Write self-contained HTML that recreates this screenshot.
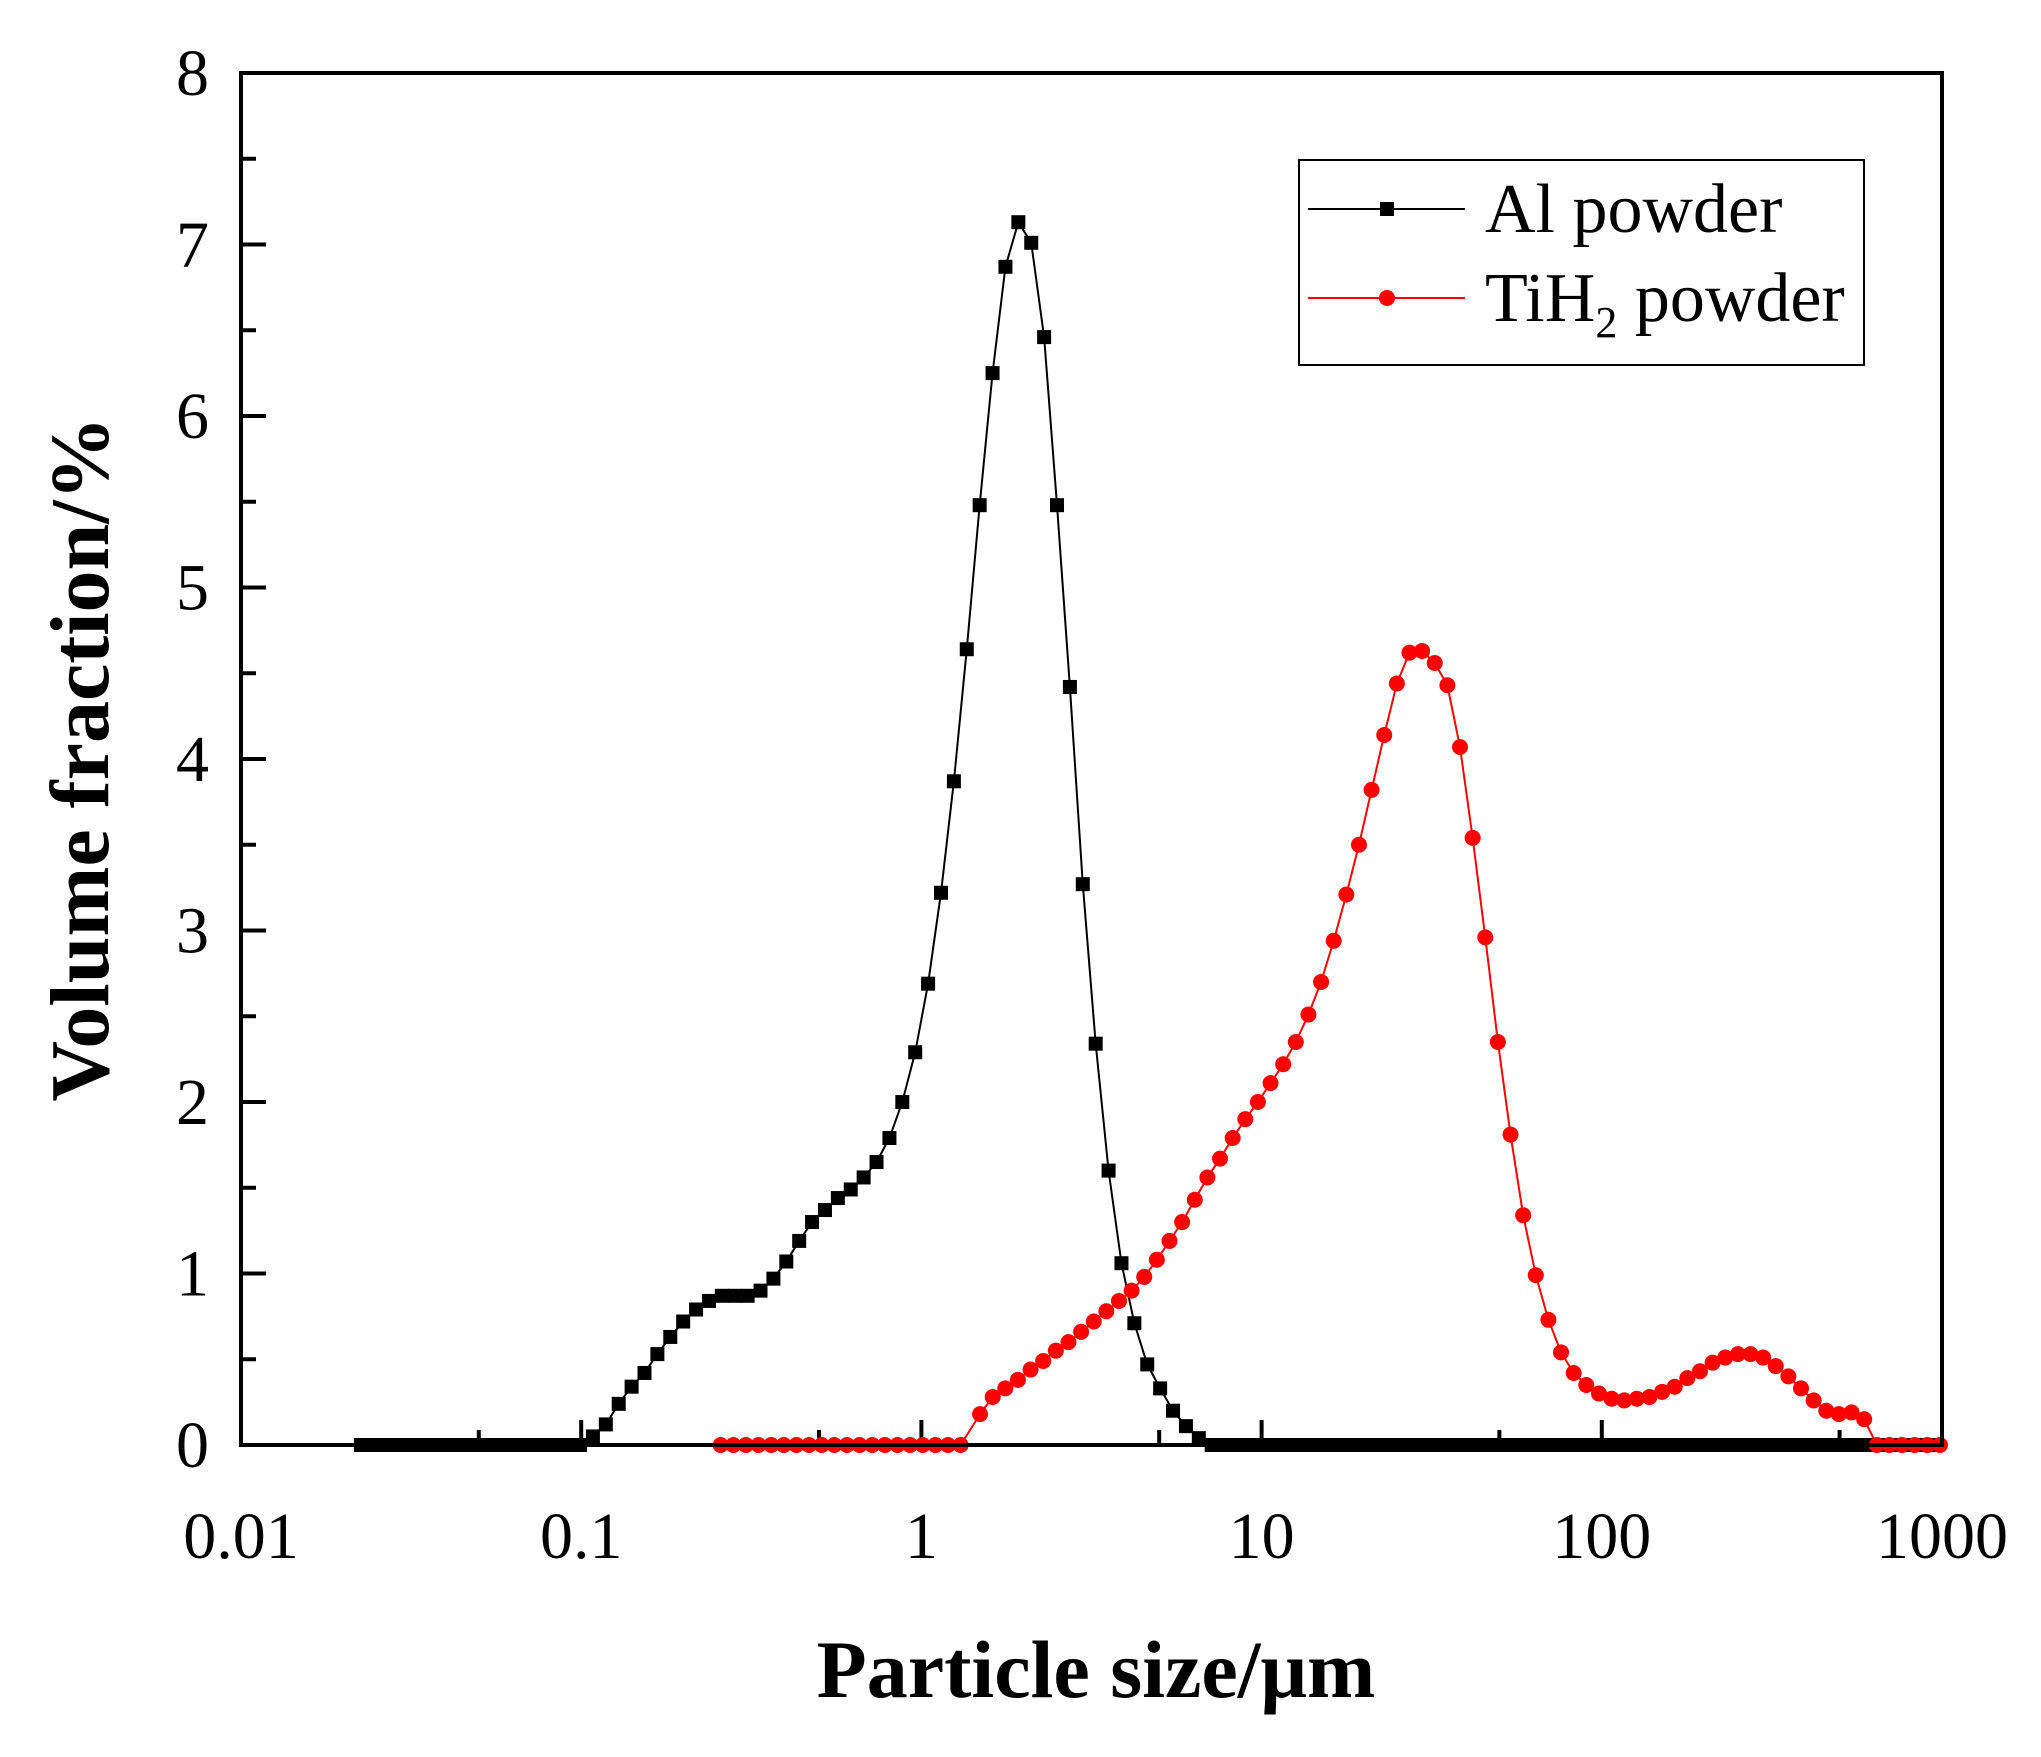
<!DOCTYPE html>
<html><head><meta charset="utf-8"><style>
html,body{margin:0;padding:0;background:#fff;}
svg text{font-family:"Liberation Serif",serif;fill:#000;}
</style></head><body>
<svg id="s" xmlns="http://www.w3.org/2000/svg" width="2041" height="1752" viewBox="0 0 2041 1752">
<rect width="2041" height="1752" fill="#fff"/>
<g id="g"></g>
<rect x="241" y="73" width="1701" height="1372" fill="none" stroke="#000" stroke-width="4"/>
<text x="1096" y="1697" font-size="82" font-weight="bold" text-anchor="middle">Particle size/μm</text>
<text transform="translate(108,759) rotate(-90)" font-size="84" font-weight="bold" text-anchor="middle">Volume fraction/%</text>
<rect x="1299" y="160" width="565" height="205" fill="#fff" stroke="#000" stroke-width="2"/>
<line x1="1308" y1="209" x2="1465" y2="209" stroke="#000" stroke-width="2"/>
<rect x="1380" y="202" width="14" height="14" fill="#000"/>
<text x="1485" y="232" font-size="70">Al powder</text>
<line x1="1308" y1="298" x2="1465" y2="298" stroke="#f00" stroke-width="2"/>
<circle cx="1387" cy="298" r="8" fill="#f00"/>
<text x="1485" y="321" font-size="70">TiH<tspan font-size="44" dy="16">2</tspan><tspan dy="-16"> powder</tspan></text>
</svg>
<script>
const NS="http://www.w3.org/2000/svg",g=document.getElementById('g');
function el(t,a){const e=document.createElementNS(NS,t);for(const k in a)e.setAttribute(k,a[k]);g.appendChild(e);return e;}
const X=sx=>241+(sx-185)*(1701/1305), Y=v=>1445-v*171.5;
const dec=340.2;
for(let i=0;i<=5;i++){const x=241+i*dec;el('line',{x1:x,y1:1445,x2:x,y2:1420,stroke:'#000','stroke-width':4});
 const t=el('text',{x:x,y:1558,'font-size':66,'text-anchor':'middle'});t.textContent=['0.01','0.1','1','10','100','1000'][i];
 if(i<5){const xm=x+Math.log10(5)*dec;el('line',{x1:xm,y1:1445,x2:xm,y2:1430,stroke:'#000','stroke-width':4});}}
for(let v=0;v<=8;v++){const y=Y(v);el('line',{x1:241,y1:y,x2:266,y2:y,stroke:'#000','stroke-width':4});
 const t=el('text',{x:209,y:y+22,'font-size':66,'text-anchor':'end'});t.textContent=v;
 if(v<8)el('line',{x1:241,y1:Y(v+.5),x2:256,y2:Y(v+.5),stroke:'#000','stroke-width':4});}
const al=[0.05,0.12,0.24,0.34,0.42,0.53,0.63,0.72,0.79,0.84,0.87,0.87,0.87,0.90,0.97,1.07,1.19,1.30,1.37,1.44,1.49,1.56,1.65,1.79,2.00,2.29,2.69,3.22,3.87,4.64,5.48,6.25,6.87,7.13,7.01,6.46,5.48,4.42,3.27,2.34,1.60,1.06,0.71,0.47,0.33,0.20,0.11,0.04];
const st=9.89;let A=[];
for(let sx=455-18*st;sx<452;sx+=st)A.push([sx,0]);
al.forEach((v,i)=>A.push([455+i*st,v]));
for(let sx=455+al.length*st;sx<=1491;sx+=st)A.push([sx,0]);
const ti=[0.18,0.28,0.33,0.38,0.44,0.49,0.55,0.60,0.66,0.72,0.78,0.84,0.90,0.98,1.08,1.19,1.30,1.43,1.56,1.67,1.79,1.90,2.00,2.11,2.22,2.35,2.51,2.70,2.94,3.21,3.50,3.82,4.14,4.44,4.62,4.63,4.56,4.43,4.07,3.54,2.96,2.35,1.81,1.34,0.99,0.73,0.54,0.42,0.35,0.30,0.27,0.26,0.27,0.28,0.31,0.34,0.39,0.43,0.48,0.51,0.53,0.53,0.51,0.46,0.40,0.33,0.26,0.20,0.18,0.19,0.15,0];
const st2=9.69;let T=[];
for(let sx=553;sx<746;sx+=st2)T.push([sx,0]);
ti.forEach((v,i)=>T.push([752+i*st2,v]));
for(let sx=752+ti.length*st2;sx<=1491;sx+=st2)T.push([sx,0]);
function poly(P,c){el('polyline',{points:P.map(p=>X(p[0])+','+Y(p[1])).join(' '),fill:'none',stroke:c,'stroke-width':2});}
poly(A,'#000');poly(T,'#f00');
A.forEach(p=>el('rect',{x:X(p[0])-7,y:Y(p[1])-7,width:14,height:14,fill:'#000'}));
T.forEach(p=>el('circle',{cx:X(p[0]),cy:Y(p[1]),r:8,fill:'#f00'}));
</script>
</body></html>
